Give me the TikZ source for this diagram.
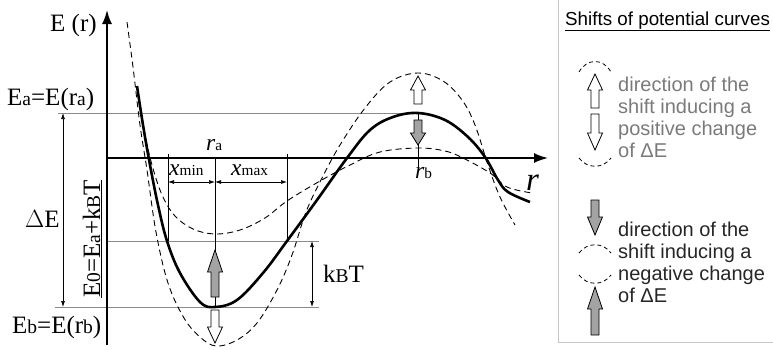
\documentclass[tikz,border=0pt]{standalone}
\usepackage{fontspec}
\setmainfont{Liberation Serif}
\setsansfont{Liberation Sans}
\usepackage{graphicx}
\usetikzlibrary{arrows.meta}
\definecolor{lvlgray}{HTML}{8A8A8A}
\definecolor{shiftgray}{HTML}{A3A3A3}
\definecolor{posgray}{HTML}{7A7A7A}
\definecolor{framegray}{HTML}{C8C8C8}
\newcommand{\lo}[1]{\scalebox{0.78}{#1}}
\newcommand{\lox}[1]{\scalebox{0.65}{#1}}
\tikzset{
  pics/blkarrow/.style 2 args={code={
    \draw[pic actions] (0,0) -- (7.5,#2) -- (4,#2) -- (4,#1) -- (-4,#1) -- (-4,#2) -- (-7.5,#2) -- cycle;
  }}
}

\begin{document}
\begin{tikzpicture}[x=1pt, y=-1pt,
  axis/.style={line width=1.8pt, -{Latex[length=14pt,width=10pt]}},
  level/.style={lvlgray, line width=1pt},
  tick/.style={line width=0.7pt},
  dim/.style={line width=0.7pt, {Latex[length=6pt,width=4pt]}-{Latex[length=6pt,width=4pt]}},
  curve/.style={line width=2.6pt, line join=round},
  shifted/.style={line width=0.9pt, dash pattern=on 6pt off 4pt},
  legarc/.style={line width=0.8pt, dash pattern=on 4pt off 3pt},
  lbl/.style={inner sep=0pt, font=\fontsize{25}{25}\selectfont},
  poslbl/.style={inner sep=0pt, font=\fontsize{23.5}{23.5}\selectfont},
  legend/.style={inner sep=0pt, align=left, anchor=base west, font=\sffamily\fontsize{20}{21.7}\selectfont},
  hollow/.style={draw=black, fill=white, line width=0.8pt},
  solidgray/.style={draw=black, fill=shiftgray, line width=0.8pt}
]
\useasboundingbox (0,0) rectangle (773,349);

% key points
\coordinate (O) at (107,158);
\coordinate (ytop) at (107,10);
\coordinate (ybot) at (107,345);
\coordinate (xend) at (548,158);
\coordinate (ra) at (215,158);
\coordinate (rmin) at (215,307);
\coordinate (rb) at (418,172);
\coordinate (rmax) at (418,113);

% energy levels
\draw[level] (58,113) -- (rmax);
\draw[level] (O |- 0,241) -- (319,241);
\draw[level] (55,307) -- (319,307);

% ticks and widths
\draw[tick] (ra) -- (rmin);
\draw[tick] (168,154) -- (168,241);
\draw[tick] (287,154) -- (287,241);
\draw[tick] (rmax) -- (rb);
\draw[dim] (168,182) -- (215,182);
\draw[dim] (215,182) -- (287,182);
\draw[dim] (63,113) -- (63,307);
\draw[dim] (312,241) -- (312,307);

% axes
\draw[axis] (ybot) -- (ytop);
\draw[axis] (O) -- (xend);

% shifted curves
\draw[shifted] plot[smooth, tension=0.6] coordinates {(139,100) (146,140) (154,172) (163,197) (175,216) (193,229) (215,234) (240,230) (265,218) (287,201) (320,181) (350,165) (380,152) (418,148) (445,151) (463,158) (490,173) (507,187) (532,193)};
\draw[shifted] plot[smooth, tension=0.6] coordinates {(127,22) (133,67) (140,125) (147,170) (156,232) (168,283) (184,318) (200,337) (216,346) (237,340) (257,323) (277,290) (292,255) (306,212) (322,178) (340,145) (365,108) (390,82) (418,73) (443,81) (462,100) (475,125) (488,165) (500,197) (515,225)};

% potential curve
\draw[curve] plot[smooth, tension=0.6] coordinates {(137,86) (143,125) (150,165) (158,205) (167,241) (180,273) (200,302) (215,307) (237,300) (263,273) (287,241) (317,200) (347,158) (370,130) (393,117) (418,113) (445,120) (468,137) (485,157) (498,180) (508,192) (530,202)};

% shift arrows
\pic[hollow] at (418,76) {blkarrow={28}{14}};
\pic[solidgray, rotate=180] at (418,145) {blkarrow={25}{12}};
\pic[solidgray] at (215,250) {blkarrow={47}{22}};
\pic[hollow, rotate=180] at (215,343) {blkarrow={33}{16}};

% labels
\node[lbl, anchor=base west] (Er) at (50,31) {E (r)};
\node[lbl, anchor=base west] (Ealbl) at (7,105) {E\lo{a}=E(r\lo{a})};
\node[lbl, anchor=base west] (Eblbl) at (12,333) {E\lo{b}=E(r\lo{b})};
\node[lbl, anchor=base west] (dE) at (25,227) {$\Delta$E};
\node[lbl, anchor=base, rotate=90] (E0lbl) at (100,239) {\underline{E\lo{0}=E\lo{a}+k\lo{B}T}};
\node[lbl, anchor=base west] (kT) at (323,282) {k\lo{B}T};
\node[poslbl, anchor=base west] (ralbl) at (206,150) {\textit{r}\lox{a}};
\node[poslbl, anchor=base west] (rblbl) at (415,178) {\textit{r}\lox{b}};
\node[poslbl, anchor=base west] (xmin) at (169,175) {\textit{x}\lox{min}};
\node[poslbl, anchor=base west] (xmax) at (231,175) {\textit{x}\lox{max}};
\node[inner sep=0pt, anchor=base west, font=\fontsize{33}{33}\selectfont\itshape] (rlbl) at (526,190) {r};

% legend
\draw[framegray, line width=1pt] (558,-5) -- (558,342) -- (780,342);
\node[legend, font=\sffamily\fontsize{18.8}{20}\selectfont] (legtitle) at (565,25) {\underline{Shifts of potential curves}};
\draw[legarc] (579,72) .. controls (587,58) and (603,58) .. (611,72);
\pic[hollow] at (595,74) {blkarrow={34}{16}};
\pic[hollow, rotate=180] at (595,150) {blkarrow={36}{17}};
\draw[legarc] (579,158) .. controls (587,169) and (603,169) .. (611,158);
\node[legend, text=posgray] (postxt) at (618,157) {direction of the\\shift inducing a\\positive change\\of ΔE};
\pic[solidgray, rotate=180] at (595,235) {blkarrow={35}{18}};
\draw[legarc] (579,253) .. controls (587,242) and (603,242) .. (611,253);
\draw[legarc] (579,275) .. controls (587,286) and (603,286) .. (611,275);
\pic[solidgray] at (595,287) {blkarrow={48}{22}};
\node[legend, text=black!85] (negtxt) at (618,302) {direction of the\\shift inducing a\\negative change\\of ΔE};
\end{tikzpicture}
\end{document}
